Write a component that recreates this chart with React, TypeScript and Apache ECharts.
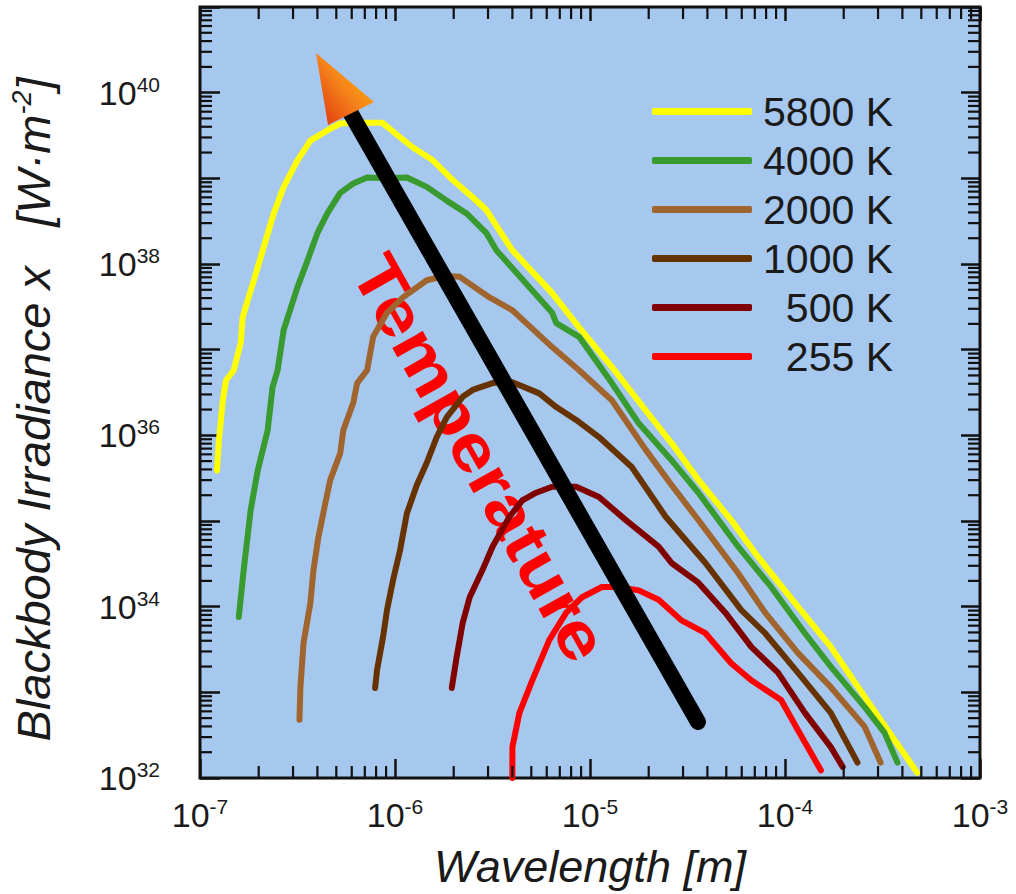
import React, { useEffect, useRef } from 'react';
import * as echarts from 'echarts';

const FONT = '"Liberation Sans", Arial, Helvetica, sans-serif';
const TEXT = '#1a1a1a';

const seriesNames = ['5800 K', '4000 K', '2000 K', '1000 K', '500 K', '255 K'];
const seriesColors = ['#ffff00', '#389a2f', '#a0652e', '#663300', '#800000', '#ff0000'];

// Each point: [log10 wavelength (m), log10 irradiance]
const curve5800: [number, number][] = [
  [-6.913, 35.59], [-6.903, 35.94], [-6.883, 36.41], [-6.867, 36.64], [-6.827, 36.76],
  [-6.791, 37.08], [-6.781, 37.38], [-6.755, 37.58], [-6.724, 37.81], [-6.673, 38.2],
  [-6.622, 38.59], [-6.571, 38.9], [-6.5, 39.21], [-6.434, 39.44], [-6.347, 39.56],
  [-6.281, 39.64], [-6.194, 39.65], [-6.112, 39.65], [-6.066, 39.65], [-5.974, 39.48],
  [-5.908, 39.36], [-5.806, 39.21], [-5.704, 38.98], [-5.602, 38.78], [-5.531, 38.63],
  [-5.464, 38.39], [-5.398, 38.16], [-5.194, 37.66], [-5.056, 37.26], [-4.888, 36.8],
  [-4.714, 36.29], [-4.582, 35.91], [-4.444, 35.48], [-4.276, 35.01], [-4.138, 34.58],
  [-3.934, 34.0], [-3.765, 33.53], [-3.592, 32.95], [-3.474, 32.56], [-3.321, 32.06],
];
const curve4000: [number, number][] = [
  [-6.801, 33.88], [-6.776, 34.43], [-6.74, 35.13], [-6.704, 35.59], [-6.653, 36.06],
  [-6.628, 36.56], [-6.602, 36.76], [-6.571, 37.23], [-6.5, 37.73], [-6.449, 38.04],
  [-6.398, 38.36], [-6.347, 38.59], [-6.281, 38.83], [-6.214, 38.94], [-6.143, 39.01],
  [-6.041, 39.0], [-5.939, 39.01], [-5.837, 38.9], [-5.735, 38.74], [-5.633, 38.59],
  [-5.531, 38.36], [-5.48, 38.16], [-5.311, 37.73], [-5.194, 37.43], [-5.173, 37.31],
  [-5.056, 37.15], [-4.888, 36.61], [-4.75, 36.14], [-4.582, 35.71], [-4.444, 35.33],
  [-4.24, 34.7], [-4.071, 34.23], [-3.898, 33.69], [-3.765, 33.3], [-3.592, 32.83],
  [-3.49, 32.53], [-3.423, 32.18],
];
const curve2000: [number, number][] = [
  [-6.49, 32.68], [-6.485, 33.06], [-6.469, 33.58], [-6.434, 34.04], [-6.418, 34.43],
  [-6.393, 34.81], [-6.357, 35.21], [-6.332, 35.48], [-6.281, 35.79], [-6.265, 36.06],
  [-6.214, 36.38], [-6.194, 36.61], [-6.143, 36.76], [-6.112, 37.15], [-6.041, 37.43],
  [-5.959, 37.61], [-5.837, 37.81], [-5.745, 37.86], [-5.668, 37.85], [-5.515, 37.61],
  [-5.398, 37.46], [-5.327, 37.31], [-5.194, 37.03], [-5.056, 36.76], [-4.888, 36.41],
  [-4.714, 35.83], [-4.582, 35.42], [-4.444, 35.01], [-4.24, 34.39], [-4.102, 33.93],
  [-3.934, 33.46], [-3.765, 33.06], [-3.592, 32.6], [-3.51, 32.18],
];
const curve1000: [number, number][] = [
  [-6.102, 33.05], [-6.092, 33.26], [-6.061, 33.65], [-6.041, 33.96], [-6.01, 34.31],
  [-5.974, 34.66], [-5.939, 35.09], [-5.888, 35.42], [-5.837, 35.68], [-5.786, 35.98],
  [-5.735, 36.21], [-5.653, 36.45], [-5.602, 36.53], [-5.5, 36.61], [-5.398, 36.62],
  [-5.26, 36.49], [-5.173, 36.33], [-5.071, 36.18], [-4.954, 35.98], [-4.786, 35.63],
  [-4.612, 35.05], [-4.408, 34.51], [-4.224, 33.96], [-4.102, 33.69], [-3.934, 33.23],
  [-3.765, 32.76], [-3.628, 32.18],
];
const curve500: [number, number][] = [
  [-5.709, 33.05], [-5.684, 33.41], [-5.653, 33.81], [-5.617, 34.11], [-5.551, 34.43],
  [-5.5, 34.7], [-5.413, 35.05], [-5.347, 35.24], [-5.276, 35.33], [-5.194, 35.4],
  [-5.071, 35.4], [-4.954, 35.28], [-4.816, 35.01], [-4.648, 34.7], [-4.582, 34.51],
  [-4.444, 34.28], [-4.306, 33.93], [-4.173, 33.53], [-4.036, 33.23], [-3.898, 32.76],
  [-3.765, 32.36], [-3.704, 32.13],
];
const curve255: [number, number][] = [
  [-5.398, 32.0], [-5.398, 32.36], [-5.362, 32.76], [-5.296, 33.14], [-5.209, 33.61],
  [-5.122, 33.93], [-5.041, 34.11], [-4.939, 34.23], [-4.852, 34.23], [-4.75, 34.19],
  [-4.648, 34.08], [-4.531, 33.84], [-4.408, 33.69], [-4.276, 33.34], [-4.173, 33.14],
  [-4.02, 32.91], [-3.934, 32.56], [-3.816, 32.09],
];
const curves = [curve5800, curve4000, curve2000, curve1000, curve500, curve255];

// axis decades (exponents)
const xDecades = [-7, -6, -5, -4, -3];
const yDecades = [32, 33, 34, 35, 36, 37, 38, 39, 40, 41];
const yLabelled = [32, 34, 36, 38, 40];
const minorMultipliers = [2, 3, 4, 5, 6, 7, 8, 9];

const xMin = Math.pow(10, xDecades[0]);
const xMax = Math.pow(10, xDecades[xDecades.length - 1]);
const yMin = Math.pow(10, yDecades[0]);
const yMax = Math.pow(10, yDecades[yDecades.length - 1]);

const xMinor: number[] = [];
xDecades.slice(0, -1).forEach((d) => minorMultipliers.forEach((m) => xMinor.push(m * Math.pow(10, d))));
const yMinor: number[] = [];
yDecades.slice(0, -1).forEach((d) => minorMultipliers.forEach((m) => yMinor.push(m * Math.pow(10, d))));

const toData = (pts: [number, number][]) => pts.map(([a, b]) => [Math.pow(10, a), Math.pow(10, b)]);

const richLabel = {
  b: { fontSize: 34, fontFamily: FONT, color: TEXT, lineHeight: 38 },
  s: { fontSize: 21, fontFamily: FONT, color: TEXT, lineHeight: 22, verticalAlign: 'top' },
};

const expOf = (v: number) => Math.round(Math.log10(v));

export default function App() {
  const ref = useRef<HTMLDivElement>(null);
  useEffect(() => {
    if (!ref.current) return;
    const chart = echarts.init(ref.current, undefined, { renderer: 'svg' });
    const tickStyle = { color: '#111', width: 2.5 };
    const minorLen = 12;

    const lineSeries = curves.map((c, i) => ({
      type: 'line',
      name: seriesNames[i],
      data: toData(c),
      symbol: 'none',
      showSymbol: false,
      smooth: false,
      xAxisIndex: 0,
      yAxisIndex: 0,
      z: 3 + i * 0.01,
      lineStyle: { color: seriesColors[i], width: 6, cap: 'round', join: 'round' },
      itemStyle: { color: seriesColors[i] },
      emphasis: { disabled: true },
    }));

    const option: any = {
      animation: false,
      backgroundColor: '#ffffff',
      grid: {
        show: true,
        left: 199,
        right: 36,
        top: 7,
        bottom: 116,
        backgroundColor: '#a7c8ee',
        borderColor: '#111',
        borderWidth: 3,
      },
      legend: {
        data: seriesNames,
        orient: 'vertical',
        left: 647,
        top: 86,
        icon: 'roundRect',
        itemWidth: 100,
        itemHeight: 7,
        itemGap: 8,
        selectedMode: false,
        formatter: (n: string) => `{n|${n}}`,
        textStyle: {
          fontFamily: FONT,
          fontSize: 41,
          color: TEXT,
          rich: { n: { fontFamily: FONT, fontSize: 41, color: TEXT, width: 136, align: 'right', lineHeight: 40 } },
        },
      },
      xAxis: [
        {
          type: 'log',
          min: xMin,
          max: xMax,
          splitNumber: 10,
          position: 'bottom',
          axisLine: { show: false },
          splitLine: { show: false },
          axisTick: { show: true, inside: true, length: 19, lineStyle: tickStyle },
          axisLabel: {
            margin: 18,
            formatter: (v: number) => `{b|10}{s|${expOf(v)}}`,
            rich: richLabel,
          },
          name: 'Wavelength [m]',
          nameLocation: 'middle',
          nameGap: 66,
          nameTextStyle: { fontFamily: FONT, fontSize: 45, fontStyle: 'italic', color: TEXT },
        },
        {
          type: 'log',
          min: xMin,
          max: xMax,
          splitNumber: 10,
          position: 'top',
          axisLine: { show: false },
          splitLine: { show: false },
          axisTick: { show: true, inside: true, length: 14, lineStyle: tickStyle },
          axisLabel: { show: false },
        },
      ],
      yAxis: [
        {
          type: 'log',
          min: yMin,
          max: yMax,
          splitNumber: 10,
          position: 'left',
          axisLine: { show: false },
          splitLine: { show: false },
          axisTick: { show: true, inside: true, length: 20, lineStyle: tickStyle },
          axisLabel: {
            margin: 40,
            formatter: (v: number) => {
              const e = expOf(v);
              return yLabelled.includes(e) ? `{b|10}{s|${e}}` : '';
            },
            rich: richLabel,
          },
          name: 'Blackbody Irradiance x\u00a0\u00a0\u00a0[W·m{s|-2}]',
          nameLocation: 'middle',
          nameRotate: 90,
          nameGap: 142,
          nameTextStyle: {
            fontFamily: FONT,
            fontSize: 47,
            fontStyle: 'italic',
            color: TEXT,
            lineHeight: 50,
            padding: [0, 34, 0, 0],
            rich: {
              s: { fontFamily: FONT, fontSize: 27, fontStyle: 'italic', color: TEXT, lineHeight: 28, verticalAlign: 'top' },
            },
          },
        },
        {
          type: 'log',
          min: yMin,
          max: yMax,
          splitNumber: 10,
          position: 'right',
          axisLine: { show: false },
          splitLine: { show: false },
          axisTick: { show: true, inside: true, length: 19, lineStyle: tickStyle },
          axisLabel: { show: false },
        },
      ],
      series: [
        ...lineSeries,
        {
          type: 'custom',
          name: 'xMinor',
          xAxisIndex: 0,
          yAxisIndex: 0,
          silent: true,
          clip: false,
          z: 6,
          data: xMinor.map((v) => [v, yMin]),
          encode: { x: 0, y: 1 },
          renderItem: (params: any, api: any) => {
            const p = api.coord([api.value(0), api.value(1)]);
            const cs = params.coordSys;
            const x = p[0];
            const yb = cs.y + cs.height;
            const yt = cs.y;
            const st = { stroke: '#111', lineWidth: 2.2 };
            return {
              type: 'group',
              children: [
                { type: 'line', shape: { x1: x, y1: yb, x2: x, y2: yb - minorLen }, style: st },
                { type: 'line', shape: { x1: x, y1: yt, x2: x, y2: yt + minorLen }, style: st },
              ],
            };
          },
        },
        {
          type: 'custom',
          name: 'yMinor',
          xAxisIndex: 0,
          yAxisIndex: 0,
          silent: true,
          clip: false,
          z: 6,
          data: yMinor.map((v) => [xMin, v]),
          encode: { x: 0, y: 1 },
          renderItem: (params: any, api: any) => {
            const p = api.coord([api.value(0), api.value(1)]);
            const cs = params.coordSys;
            const y = p[1];
            const xl = cs.x;
            const xr = cs.x + cs.width;
            const st = { stroke: '#111', lineWidth: 2.2 };
            return {
              type: 'group',
              children: [
                { type: 'line', shape: { x1: xl, y1: y, x2: xl + minorLen, y2: y }, style: st },
                { type: 'line', shape: { x1: xr, y1: y, x2: xr - minorLen, y2: y }, style: st },
              ],
            };
          },
        },
      ],
      graphic: [
        {
          type: 'text',
          z: 1,
          x: 480,
          y: 458,
          rotation: -1.06,
          scaleX: 1.15,
          style: {
            text: 'Temperature',
            fill: '#ff0000',
            fontFamily: FONT,
            fontSize: 66,
            fontWeight: 'bold',
            align: 'center',
            verticalAlign: 'middle',
            textAlign: 'center',
            textVerticalAlign: 'middle',
          },
        },
        {
          type: 'line',
          z: 100,
          shape: { x1: 350, y1: 112, x2: 698, y2: 722 },
          style: { stroke: '#000', lineWidth: 16, lineCap: 'round' },
        },
        {
          type: 'polygon',
          z: 101,
          shape: { points: [[316, 53], [328, 125], [374, 102]] },
          style: {
            fill: new echarts.graphic.LinearGradient(0, 1, 1, 0, [
              { offset: 0, color: '#e0300f' },
              { offset: 0.5, color: '#f5841a' },
              { offset: 1, color: '#ffc000' },
            ]),
          },
        },
      ],
    };
    chart.setOption(option);
    return () => chart.dispose();
  }, []);
  return <div ref={ref} style={{ position: 'fixed', left: 0, top: 0, width: 1016, height: 894 }} />;
}
